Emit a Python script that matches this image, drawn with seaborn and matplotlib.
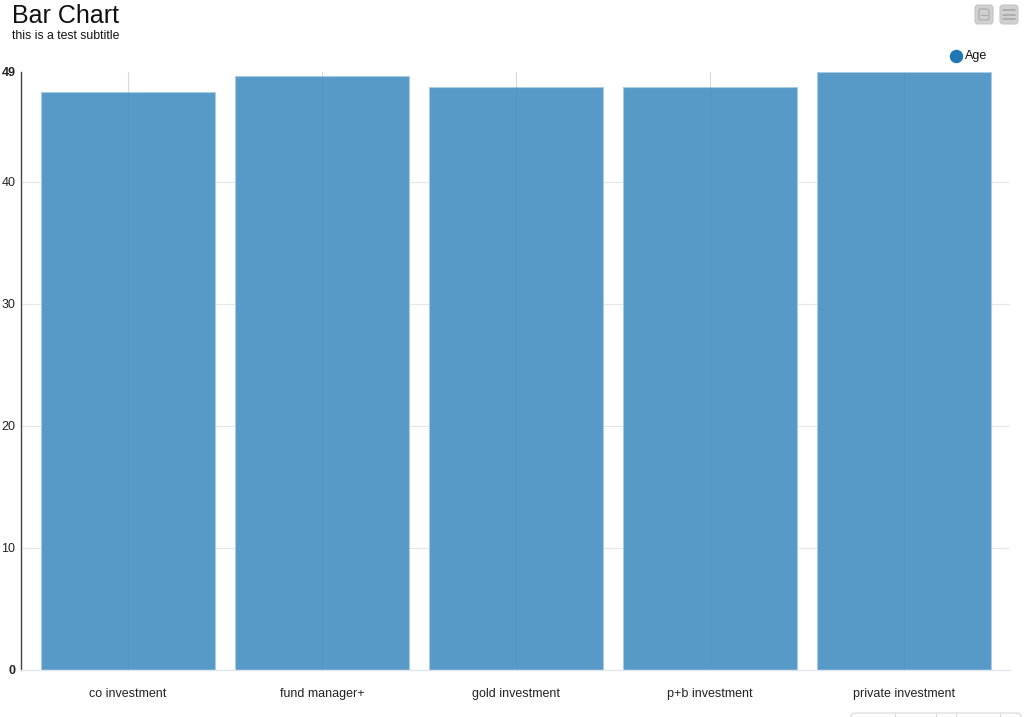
import pandas as pd
import numpy as np
import matplotlib
matplotlib.use("Agg")
import matplotlib.pyplot as plt
from matplotlib.patches import FancyBboxPatch
import seaborn as sns

categories = ["co investment", "fund manager+", "gold investment", "p+b investment", "private investment"]
age = [47.4, 48.7, 47.75, 47.75, 49.0]
y_ticks = [0, 10, 20, 30, 40, 49]

df = pd.DataFrame({"category": categories, "Age": age})

sns.set_style("white")
plt.rcParams["font.family"] = ["Liberation Sans", "DejaVu Sans"]

W, H = 1024, 717
fig = plt.figure(figsize=(W / 100, H / 100), dpi=100)

# axes box in pixels: left 21, right 1010, bottom 670, top 72
ax = fig.add_axes([21 / W, (H - 670) / H, (1010 - 21) / W, (670 - 72) / H])

# grid lines under the bars
for t in y_ticks[1:-1]:
    ax.axhline(t, color="#e6e6e6", lw=0.8, zorder=0.5)

sns.barplot(data=df, x="category", y="Age", color="#5799c7", saturation=1,
            width=0.897, edgecolor="#a9cbe4", linewidth=0.8, ax=ax, zorder=2)

ax.set_xlim(-0.5515, 4.5464)
ax.set_ylim(0, 49)
ax.set_yticks(y_ticks)
ax.set_yticklabels([str(t) for t in y_ticks], fontsize=9, color="#222222")
for lbl in ax.get_yticklabels():
    if lbl.get_text() in ("0", "49"):
        lbl.set_fontweight("bold")
ax.tick_params(axis="x", labelsize=9, colors="#222222", length=0, pad=13)
ax.tick_params(axis="y", length=0, pad=4)
ax.set_xlabel("")
ax.set_ylabel("")

# faint vertical lines at category centres
for i in range(len(categories)):
    ax.axvline(i, color="#e6e6e6", lw=0.8, zorder=0.5)
    ax.axvline(i, color="#4a7aa0", lw=0.6, alpha=0.15, zorder=3)

for side in ("top", "right"):
    ax.spines[side].set_visible(False)
ax.spines["left"].set_color("#444444")
ax.spines["left"].set_linewidth(1.0)
ax.spines["bottom"].set_color("#e0e6ee")
ax.spines["bottom"].set_linewidth(1.0)

# titles
fig.text(12 / W, 1 - 16 / H, "Bar Chart", fontsize=18, color="#111111", va="center", ha="left")
fig.text(12 / W, 1 - 36 / H, "this is a test subtitle", fontsize=8.8, color="#111111", va="center", ha="left")

# legend
ax_leg = fig.add_axes([0, 0, 1, 1], facecolor="none")
ax_leg.set_xlim(0, W)
ax_leg.set_ylim(H, 0)
ax_leg.axis("off")
ax_leg.scatter([956], [56], s=75, color="#1f77b4", zorder=5)
ax_leg.text(965, 56, "Age", fontsize=9, color="#111111", va="center", ha="left")

# toolbar buttons
for x0 in (975, 1000):
    ax_leg.add_patch(FancyBboxPatch((x0, 5), 18, 19, boxstyle="round,pad=0,rounding_size=3",
                                    fc="#d0d0d0", ec="#c4c4c4", lw=0.8))
ax_leg.add_patch(FancyBboxPatch((979, 9), 10, 11, boxstyle="round,pad=0,rounding_size=2",
                                fc="none", ec="#a8a8a8", lw=0.8))
ax_leg.plot([981, 987], [14.5, 14.5], color="#a8a8a8", lw=0.8)
for yy in (10, 14.5, 19):
    ax_leg.plot([1003, 1015], [yy, yy], color="#a8a8a8", lw=1.2)

# partial control box at the bottom
ax_leg.add_patch(FancyBboxPatch((851, 713), 170, 20, boxstyle="round,pad=0,rounding_size=4",
                                fc="white", ec="#d8d8d8", lw=0.8))
for xx in (895, 936, 956, 1000):
    ax_leg.plot([xx, xx], [713, 717], color="#d8d8d8", lw=0.8)

fig.savefig("out.png", dpi=100)
